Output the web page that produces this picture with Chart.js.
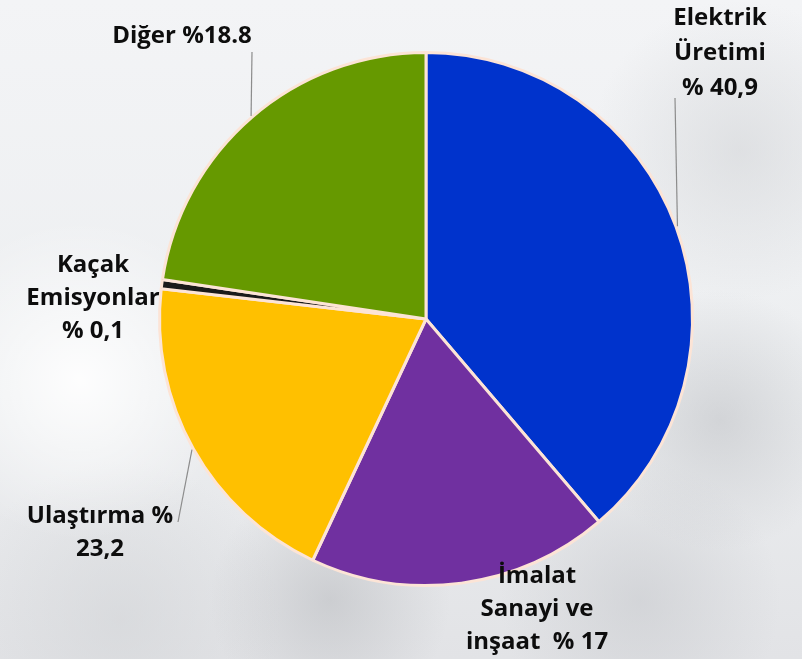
<!DOCTYPE html>
<html>
<head>
<meta charset="utf-8">
<script src="https://cdn.jsdelivr.net/npm/chart.js@4"></script>
<style>
  html, body { margin: 0; padding: 0; }
  body {
    width: 802px; height: 659px; overflow: hidden;
    background:
      radial-gradient(circle at 80px 380px, rgba(255,255,255,0.9) 0, rgba(255,255,255,0) 160px),
      radial-gradient(circle at 720px 420px, rgba(190,192,196,0.55) 0, rgba(190,192,196,0) 130px),
      radial-gradient(circle at 330px 600px, rgba(180,182,186,0.5) 0, rgba(180,182,186,0) 120px),
      radial-gradient(circle at 640px 600px, rgba(200,202,206,0.6) 0, rgba(200,202,206,0) 140px),
      radial-gradient(circle at 120px 620px, rgba(210,212,215,0.6) 0, rgba(210,212,215,0) 160px),
      radial-gradient(circle at 740px 150px, rgba(205,207,210,0.5) 0, rgba(205,207,210,0) 150px),
      linear-gradient(180deg, #f3f4f6 0%, #eceef0 60%, #e2e3e6 100%);
  }
  #wrap { position: absolute; left: 0; top: 0; width: 802px; height: 659px; }
</style>
</head>
<body>
<div id="wrap"><canvas id="pie"></canvas></div>
<script>
// slices, clockwise from 12 o'clock (sizes)
const categories = ["Elektrik Üretimi", "İmalat Sanayi ve inşaat", "Ulaştırma", "Kaçak Emisyonlar", "Diğer"];
const sliceValues = [38.7, 18.2, 19.8, 0.55, 22.6];
const sliceColors = ["#0033CC", "#7030A0", "#FFC000", "#1A1A1A", "#669900"];

// label text as printed on the chart
const labelLines = [
  ["Elektrik", "Üretimi", "% 40,9"],
  ["İmalat", "Sanayi ve", "inşaat  % 17"],
  ["Ulaştırma %", "23,2"],
  ["Kaçak", "Emisyonlar", "% 0,1"],
  ["Diğer %18.8"]
];
const labelPos = [[720, 18], [537, 576], [100, 516], [93, 265], [182, 36]];
const lineGap = [35, 33, 33, 33, 0];
const leaderFrom = [[675, 98], null, [178, 522], null, [252, 52]];

const labelPlugin = {
  id: 'sliceLabels',
  afterDraw(chart) {
    const ctx = chart.ctx;
    const arcs = chart.getDatasetMeta(0).data;
    ctx.save();
    // leader lines to the middle of the slice edge
    ctx.strokeStyle = '#8c8c8c';
    ctx.lineWidth = 1.2;
    arcs.forEach((arc, i) => {
      if (!leaderFrom[i]) return;
      const p = arc.getProps(['x', 'y', 'startAngle', 'endAngle', 'outerRadius'], true);
      const mid = (p.startAngle + p.endAngle) / 2;
      const r = p.outerRadius + 1.5;
      ctx.beginPath();
      ctx.moveTo(leaderFrom[i][0], leaderFrom[i][1]);
      ctx.lineTo(p.x + Math.cos(mid) * r, p.y + Math.sin(mid) * r);
      ctx.stroke();
    });
    ctx.fillStyle = '#0d0d0d';
    ctx.font = 'bold 24px "Open Sans"';
    ctx.textAlign = 'center';
    ctx.textBaseline = 'middle';
    labelLines.forEach((lines, i) => {
      lines.forEach((t, j) => {
        ctx.fillText(t, labelPos[i][0], labelPos[i][1] + j * lineGap[i]);
      });
    });
    ctx.restore();
  }
};

new Chart(document.getElementById('pie'), {
  type: 'pie',
  data: {
    labels: categories,
    datasets: [{
      data: sliceValues,
      backgroundColor: sliceColors,
      borderColor: '#FCE4D6',
      borderWidth: 3
    }]
  },
  options: {
    responsive: true,
    maintainAspectRatio: false,
    animation: false,
    layout: { padding: { left: 158, right: 108, top: 51, bottom: 72 } },
    plugins: { legend: { display: false }, tooltip: { enabled: false } }
  },
  plugins: [labelPlugin]
});
</script>
</body>
</html>
